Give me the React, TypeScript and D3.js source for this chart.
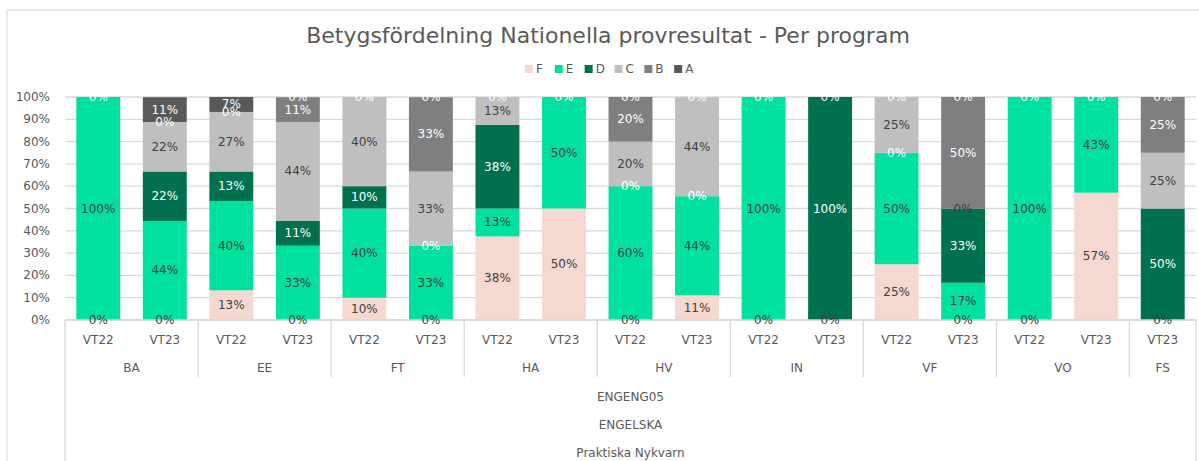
import React from "react";
import * as d3 from "d3";

// categories (two-level axis: program / term)
const programs = ["BA", "BA", "EE", "EE", "FT", "FT", "HA", "HA", "HV", "HV", "IN", "IN", "VF", "VF", "VO", "VO", "FS"];
const terms = ["VT22", "VT23", "VT22", "VT23", "VT22", "VT23", "VT22", "VT23", "VT22", "VT23", "VT22", "VT23", "VT22", "VT23", "VT22", "VT23", "VT23"];
const levelLabels = ["ENGENG05", "ENGELSKA", "Praktiska Nykvarn"];

// share of grade per bar, in percent (null = blank cell, no label)
const gradeF = [0, 0, 13.3, 0, 10, 0, 37.5, 50, 0, 11.1, 0, 0, 25, 0, 0, 57.1, 0];
const gradeE = [100, 44.4, 40, 33.3, 40, 33.3, 12.5, 50, 60, 44.4, 100, null, 50, 16.7, 100, 42.9, null];
const gradeD = [null, 22.2, 13.3, 11.1, 10, 0, 37.5, 0, 0, 0, 0, 100, 0, 33.3, null, null, 50];
const gradeC = [null, 22.2, 26.7, 44.4, 40, 33.3, 12.5, null, 20, 44.4, null, null, 25, 0, null, null, 25];
const gradeB = [0, 0, 0, 11.1, 0, 33.3, 0, null, 20, 0, null, 0, 0, 50, 0, 0, 25];
const gradeA = [null, 11.1, 6.7, 0, null, 0, null, null, 0, null, null, null, null, 0, null, null, 0];

const grades = ["F", "E", "D", "C", "B", "A"];
const yTicks = [0, 10, 20, 30, 40, 50, 60, 70, 80, 90, 100];

const colors: Record<string, string> = {
  F: "#F5D8CF",
  E: "#00E09E",
  D: "#00704F",
  C: "#BFBFBF",
  B: "#7F7F7F",
  A: "#595959",
};
const labelColors: Record<string, string> = {
  F: "#404040",
  E: "#404040",
  D: "#ffffff",
  C: "#404040",
  B: "#ffffff",
  A: "#ffffff",
};

const W = 1199;
const H = 461;
const margin = { top: 97, right: 3, bottom: 141, left: 65 };
const font = "'DejaVu Sans', sans-serif";

export default function App() {
  const series: Record<string, (number | null)[]> = {
    F: gradeF, E: gradeE, D: gradeD, C: gradeC, B: gradeB, A: gradeA,
  };
  const ids = programs.map((_, i) => i);
  const rows = ids.map((i) => {
    const r: Record<string, number> = { i };
    grades.forEach((g) => (r[g] = series[g][i] ?? 0));
    return r;
  });
  const stacked = d3.stack<Record<string, number>>().keys(grades)(rows);

  const x = d3
    .scaleBand<number>()
    .domain(ids)
    .range([margin.left, W - margin.right])
    .paddingInner(0.34)
    .paddingOuter(0.17);
  const y = d3.scaleLinear().domain([0, 100]).range([H - margin.bottom, margin.top]);
  const step = x.step();
  const x0 = margin.left;
  const x1 = W - margin.right;
  const baseY = y(0);

  // program groups
  const groups: { name: string; start: number; end: number }[] = [];
  programs.forEach((p, i) => {
    const last = groups[groups.length - 1];
    if (last && last.name === p) last.end = i;
    else groups.push({ name: p, start: i, end: i });
  });
  const groupLeft = (g: { start: number }) => x0 + g.start * step;
  const groupRight = (g: { end: number }) => x0 + (g.end + 1) * step;

  const legend = d3.scaleBand<string>().domain(grades).range([525, 704]);

  return (
    <svg
      width={W}
      height={H}
      style={{ position: "absolute", left: 0, top: 0, background: "#fff" }}
      fontFamily={font}
    >
      <rect x={7} y={10} width={1250} height={500} fill="#fff" stroke="#d9d9d9" />
      <text x={608} y={35} textAnchor="middle" dominantBaseline="central" fontSize={22} fill="#595959">
        Betygsfördelning Nationella provresultat - Per program
      </text>

      {grades.map((g) => (
        <g key={g} transform={`translate(${legend(g)},69)`}>
          <rect x={0} y={-4} width={8} height={8} fill={colors[g]} />
          <text x={11} y={0} dominantBaseline="central" fontSize={12} fill="#595959">
            {g}
          </text>
        </g>
      ))}

      {yTicks.map((t) => (
        <g key={t}>
          <line x1={x0} x2={x1} y1={y(t)} y2={y(t)} stroke="#d9d9d9" strokeWidth={1.3} />
          <text x={50} y={y(t)} textAnchor="end" dominantBaseline="central" fontSize={12} fill="#595959">
            {t}%
          </text>
        </g>
      ))}

      {stacked.map((layer) => (
        <g key={layer.key} fill={colors[layer.key]}>
          {layer.map((d, i) => (
            <rect
              key={i}
              x={x(i)}
              y={y(d[1])}
              width={x.bandwidth()}
              height={Math.max(0, y(d[0]) - y(d[1]))}
            />
          ))}
        </g>
      ))}

      {/* axis frame */}
      <line x1={x0} x2={x1} y1={baseY} y2={baseY} stroke="#d9d9d9" strokeWidth={1.3} />
      <line x1={x0} x2={x0} y1={baseY} y2={H} stroke="#d9d9d9" strokeWidth={1.3} />
      <line x1={x1} x2={x1} y1={baseY} y2={H} stroke="#d9d9d9" strokeWidth={1.3} />
      {groups.slice(1).map((g) => (
        <line key={g.name} x1={groupLeft(g)} x2={groupLeft(g)} y1={baseY} y2={baseY + 57} stroke="#d9d9d9" strokeWidth={1.3} />
      ))}

      {terms.map((t, i) => (
        <text key={i} x={(x(i) ?? 0) + x.bandwidth() / 2} y={340} textAnchor="middle" dominantBaseline="central" fontSize={12} fill="#595959">
          {t}
        </text>
      ))}
      {groups.map((g) => (
        <text key={g.name} x={(groupLeft(g) + groupRight(g)) / 2} y={368} textAnchor="middle" dominantBaseline="central" fontSize={12} fill="#595959">
          {g.name}
        </text>
      ))}
      {levelLabels.map((l, k) => (
        <text key={l} x={(x0 + x1) / 2} y={397 + k * 28} textAnchor="middle" dominantBaseline="central" fontSize={12} fill="#595959">
          {l}
        </text>
      ))}

      {/* data labels */}
      {stacked.map((layer) => (
        <g key={layer.key} fill={labelColors[layer.key]} fontSize={12}>
          {layer.map((d, i) => {
            const v = series[layer.key][i];
            if (v === null) return null;
            return (
              <text key={i} x={(x(i) ?? 0) + x.bandwidth() / 2} y={y((d[0] + d[1]) / 2)} textAnchor="middle" dominantBaseline="central">
                {Math.round(v)}%
              </text>
            );
          })}
        </g>
      ))}
    </svg>
  );
}
